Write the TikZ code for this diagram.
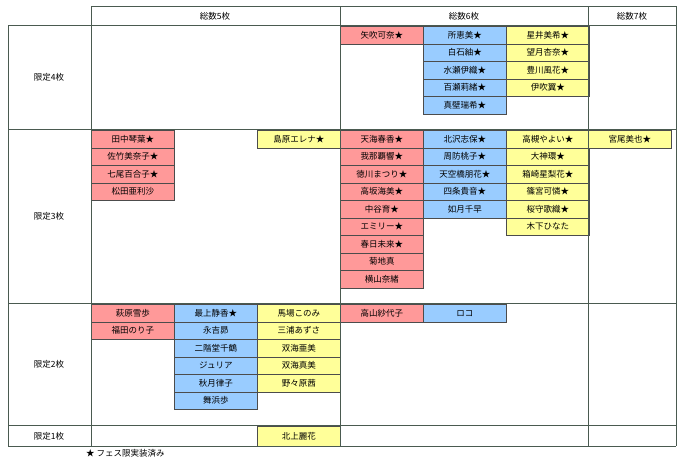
\documentclass[tikz,border=0pt]{standalone}
\usepackage{fontspec}
\setmainfont{Noto Sans CJK JP}
\newcounter{cellno}
\definecolor{cred}{HTML}{FF9999}
\definecolor{cblue}{HTML}{99CCFF}
\definecolor{cyel}{HTML}{FFFF99}
\definecolor{grid}{HTML}{4A5A50}
\tikzset{cellbox/.style={draw=black!70,line width=0.8pt,anchor=north west,minimum width=83pt,minimum height=17.5pt,inner sep=0pt,font=\fontsize{8.5}{9}\selectfont},
 lbl/.style={font=\fontsize{8.5}{9}\selectfont,inner sep=0pt}}
\newcommand{\mycol}[4]{% x, y0, colour, list
 \foreach \t [count=\i from 0] in {#4}{%
  \stepcounter{cellno}%
  \node[cellbox,fill=#3] (c\arabic{cellno}) at (#1,{#2+17.5*\i}) {\t};}}
\begin{document}
\begin{tikzpicture}[x=1pt,y=-1pt]
\useasboundingbox (0,0) rectangle (680,463);
\fill[white] (0,0) rectangle (680,463);
% cells
\mycol{340}{26}{cred}{矢吹可奈★}
\mycol{423}{26}{cblue}{所恵美★,白石紬★,水瀬伊織★,百瀬莉緒★,真壁瑞希★}
\mycol{506}{26}{cyel}{星井美希★,望月杏奈★,豊川風花★,伊吹翼★}
\mycol{91}{130}{cred}{田中琴葉★,佐竹美奈子★,七尾百合子★,松田亜利沙}
\mycol{257}{130}{cyel}{島原エレナ★}
\mycol{340}{130}{cred}{天海春香★,我那覇響★,徳川まつり★,高坂海美★,中谷育★,エミリー★,春日未来★,菊地真,横山奈緒}
\mycol{423}{130}{cblue}{北沢志保★,周防桃子★,天空橋朋花★,四条貴音★,如月千早}
\mycol{506}{130}{cyel}{高槻やよい★,大神環★,箱崎星梨花★,篠宮可憐★,桜守歌織★,木下ひなた}
\mycol{588}{130}{cyel}{宮尾美也★}
\mycol{91}{304}{cred}{萩原雪歩,福田のり子}
\mycol{174}{304}{cblue}{最上静香★,永吉昴,二階堂千鶴,ジュリア,秋月律子,舞浜歩}
\mycol{257}{304}{cyel}{馬場このみ,三浦あずさ,双海亜美,双海真美,野々原茜}
\mycol{340}{304}{cred}{高山紗代子}
\mycol{423}{304}{cblue}{ロコ}
\node[cellbox,fill=cyel,minimum height=20pt] (rk) at (257,426) {北上麗花};
% grid
\draw[grid,line width=0.7pt] (91,6) -- (676,6);
\foreach \yy in {25,129,303,425,446} \draw[grid,line width=0.7pt] (8,\yy) -- (676,\yy);
\draw[grid,line width=0.7pt] (8,25) -- (8,446);
\foreach \xx in {91,340,588,676} \draw[grid,line width=0.7pt] (\xx,6) -- (\xx,446);
% headers
\node[lbl] (h5) at (215,16) {総数5枚};
\node[lbl] (h6) at (464,16) {総数6枚};
\node[lbl] (h7) at (632,16) {総数7枚};
\node[lbl] (r4) at (49,77) {限定4枚};
\node[lbl] (r3) at (49,216) {限定3枚};
\node[lbl] (r2) at (49,364) {限定2枚};
\node[lbl] (r1) at (49,436) {限定1枚};
\node[lbl,anchor=west] (note) at (86,453) {★ フェス限実装済み};
\end{tikzpicture}
\end{document}
